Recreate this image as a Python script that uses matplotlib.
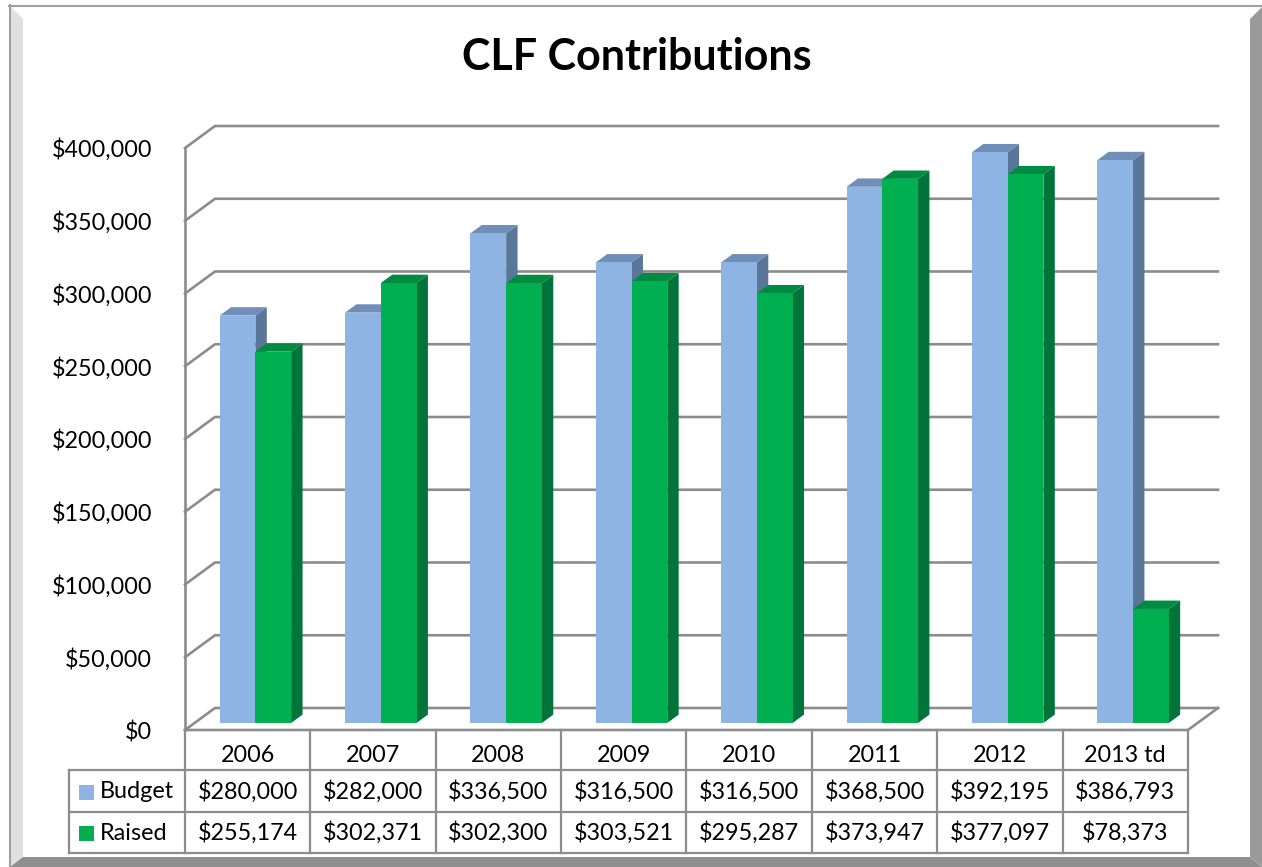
import numpy as np
import matplotlib.pyplot as plt
from matplotlib.patches import Polygon, Rectangle

# data
years = ["2006", "2007", "2008", "2009", "2010", "2011", "2012", "2013 td"]
budget = [280000, 282000, 336500, 316500, 316500, 368500, 392195, 386793]
raised = [255174, 302371, 302300, 303521, 295287, 373947, 377097, 78373]
series_names = ["Budget", "Raised"]
y_ticks = np.arange(0, 400001, 50000)

W, H = 1262, 867
YMAX = 400000
PX = YMAX / 582.0          # value units per pixel (vertical)
CPX = 1.0 / 125.375        # category units per pixel (horizontal)
DX, DY = 30 * CPX, 22 * PX  # depth of the 3d box
D0, D1 = 0.32, 0.70        # bar depth inside the box
BAR_L, BAR_W = 0.2, 0.285

front_cols = ["#8EB4E3", "#00B050"]
side_cols = ["#5A7698", "#00743A"]
top_cols = ["#6F8EB8", "#008C40"]
grid_col = "#8C8C8C"

plt.rcParams['font.family'] = ['Lato', 'DejaVu Sans']

fig = plt.figure(figsize=(W / 100, H / 100), dpi=100)
fig.patch.set_facecolor("white")


def fp(x, y):
    return (x / W, 1 - y / H)


# frame with bevel
fig.add_artist(Polygon([fp(10, 6), fp(23, 19), fp(23, 857), fp(10, 867)],
                       closed=True, fc="#E0E0E0", ec="none", transform=fig.transFigure))
fig.add_artist(Polygon([fp(10, 867), fp(23, 857), fp(1250, 857), fp(1262, 867)],
                       closed=True, fc="#8F8F8F", ec="none", transform=fig.transFigure))
fig.add_artist(Polygon([fp(1250, 19), fp(1262, 7), fp(1262, 867), fp(1250, 857)],
                       closed=True, fc="#9A9A9A", ec="none", transform=fig.transFigure))
fig.add_artist(plt.Line2D([9 / W, 1262 / W], [1 - 5.5 / H, 1 - 5.5 / H], color="#A0A0A0",
                          lw=1.5, transform=fig.transFigure))
fig.add_artist(plt.Line2D([9.5 / W, 9.5 / W], [1 - 5 / H, 0], color="#A0A0A0",
                          lw=1.5, transform=fig.transFigure))

fig.text(637 / W, 1 - 57 / H, "CLF Contributions", ha="center", va="center",
         fontsize=31, fontweight="bold")

ax = fig.add_axes([185 / W, (H - 730) / H, 1003 / W, 582 / H])
ax.set_xlim(0, len(years))
ax.set_ylim(0, YMAX)
ax.axis("off")
n = len(years)

# walls and gridlines
ax.plot([0, 0], [0, YMAX], color=grid_col, lw=1.9, clip_on=False, zorder=1)
for v in y_ticks:
    ax.plot([0, DX, n + DX], [v, v + DY, v + DY], color=grid_col, lw=1.9,
            clip_on=False, zorder=1, solid_joinstyle="miter")
    ax.text(-33 * CPX, v - 2 * PX, f"${v:,.0f}", ha="right", va="center", fontsize=16.8)
# floor
ax.plot([0, n, n + DX], [0, 0, DY], color=grid_col, lw=1.9, clip_on=False, zorder=1)

# bars
for i in range(n):
    for j, vals in enumerate([budget, raised]):
        v = vals[i]
        xl = i + BAR_L + j * BAR_W + D0 * DX
        xr = xl + BAR_W
        yb = D0 * DY
        yt = v + D0 * DY
        ddx, ddy = (D1 - D0) * DX, (D1 - D0) * DY
        z = 2 + j
        ax.add_patch(Polygon([(xr, yb), (xr, yt), (xr + ddx, yt + ddy), (xr + ddx, yb + ddy)],
                             closed=True, fc=side_cols[j], ec="none", clip_on=False, zorder=z))
        ax.add_patch(Polygon([(xl, yt), (xr, yt), (xr + ddx, yt + ddy), (xl + ddx, yt + ddy)],
                             closed=True, fc=top_cols[j], ec="none", clip_on=False, zorder=z))
        ax.add_patch(Rectangle((xl, yb), BAR_W, v, fc=front_cols[j], ec="none",
                               clip_on=False, zorder=z))

# data table
leg_x = (69 - 185) * CPX
rows_y = [-40 * PX, -82 * PX, -123 * PX]
for i in range(n + 1):
    ax.plot([i, i], [0, rows_y[-1]], color=grid_col, lw=1.6, clip_on=False)
ax.plot([leg_x, leg_x], [rows_y[0], rows_y[-1]], color=grid_col, lw=1.6, clip_on=False)
for ry in rows_y:
    ax.plot([leg_x, n], [ry, ry], color=grid_col, lw=1.6, clip_on=False)

for i, yr in enumerate(years):
    ax.text(i + 0.5, -25 * PX, yr, ha="center", va="center", fontsize=16.8)
    ax.text(i + 0.5, -62 * PX, f"${budget[i]:,.0f}", ha="center", va="center", fontsize=16.8)
    ax.text(i + 0.5, -103 * PX, f"${raised[i]:,.0f}", ha="center", va="center", fontsize=16.8)

for j, name in enumerate(series_names):
    cy = -62 * PX if j == 0 else -103 * PX
    ax.add_patch(Rectangle(((79 - 185) * CPX, cy - 7.5 * PX), 15 * CPX, 15 * PX,
                           fc=front_cols[j], ec="none", clip_on=False))
    ax.text((100 - 185) * CPX, cy, name, ha="left", va="center", fontsize=16.8)

fig.savefig("out.png", dpi=100)
